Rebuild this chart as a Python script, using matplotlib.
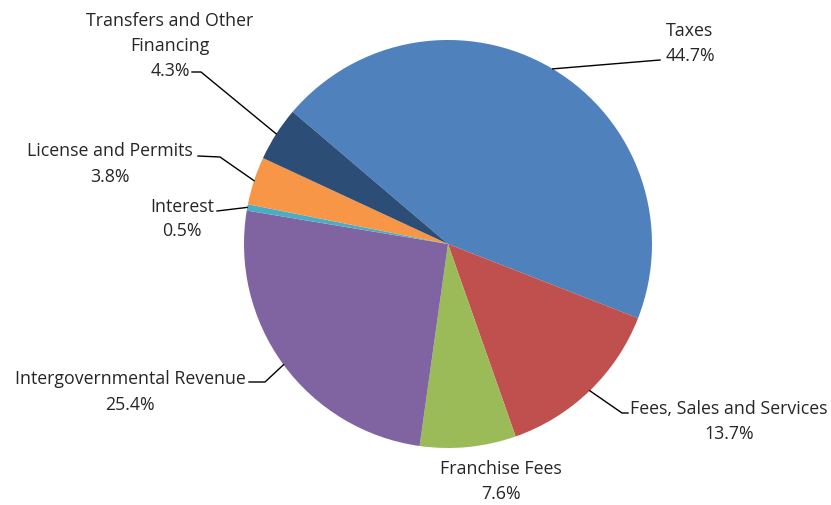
import numpy as np
import matplotlib.pyplot as plt

plt.rcParams['font.family'] = ['Open Sans', 'DejaVu Sans']

# data
categories = ['Taxes', 'Fees, Sales and Services', 'Franchise Fees',
              'Intergovernmental Revenue', 'Interest', 'License and Permits',
              'Transfers and Other\nFinancing']
shares = [44.7, 13.7, 7.6, 25.4, 0.5, 3.8, 4.3]
colors = ['#4F81BD', '#C0504D', '#9BBB59', '#8064A2', '#4BACC6', '#F79646', '#2C4D75']

W, H = 831, 506
fig = plt.figure(figsize=(W / 100, H / 100), dpi=100)
ax = fig.add_axes([0, 0, 1, 1])

cx, cy, r = 448, H - 245, 204
wedges, _ = ax.pie(shares, colors=colors, startangle=139.6, counterclock=False,
                   center=(cx, cy), radius=r, frame=True,
                   wedgeprops=dict(linewidth=0))
ax.set_xlim(0, W)
ax.set_ylim(0, H)
ax.set_aspect('equal')
ax.axis('off')

# label layout (pixel coords from top): text centre, leader elbow points
text_pos = [(690, 43), (729, 422), (501, 482), (130, 392), (182, 219), (110, 164), (170, 46)]
elbows = [
    [(660, 61)],
    [(622, 414), (628, 414)],
    None,
    [(265, 383), (249, 383)],
    [(217, 212)],
    [(220, 158), (198, 157)],
    [(201, 73), (192, 73)],
]

for w, name, val, tp, el in zip(wedges, categories, shares, text_pos, elbows):
    ax.text(tp[0], H - tp[1], f'{name}\n{val}%', ha='center', va='center',
            fontsize=12.8, color='#262626', linespacing=1.5)
    if el is None:
        continue
    mid = np.deg2rad((w.theta1 + w.theta2) / 2)
    ex, ey = cx + r * np.cos(mid), cy + r * np.sin(mid)
    xs = [ex] + [p[0] for p in el]
    ys = [ey] + [H - p[1] for p in el]
    ax.plot(xs, ys, color='black', lw=1)

fig.savefig('out.png', dpi=100)
